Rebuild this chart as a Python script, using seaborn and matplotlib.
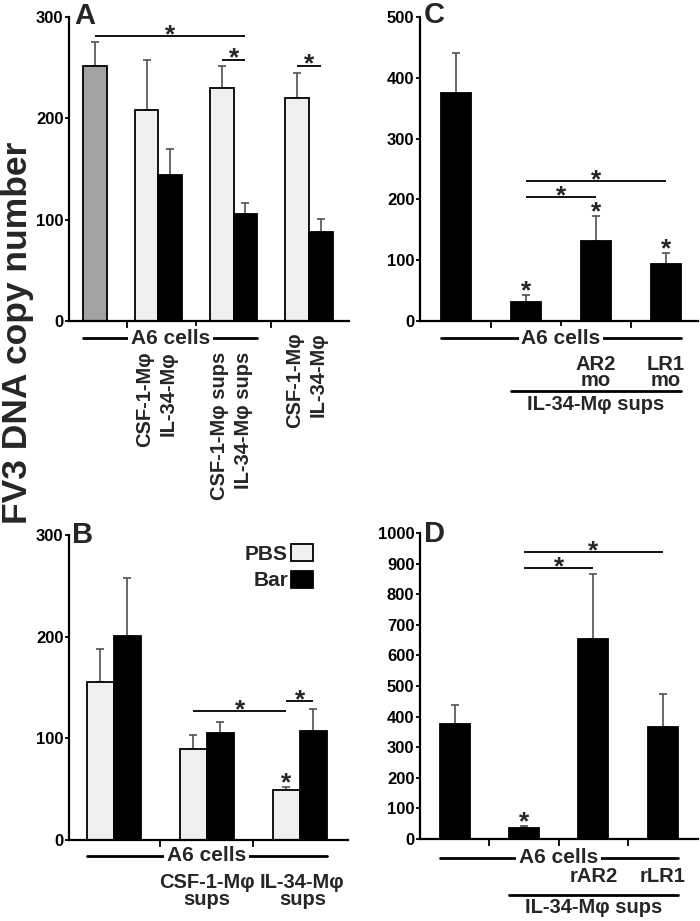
import numpy as np
import pandas as pd
import matplotlib
matplotlib.use("Agg")
import matplotlib.pyplot as plt
import matplotlib.transforms as mtransforms
import seaborn as sns

# ---- data ----
# A: A6 cells alone, then cells + Mphi, + Mphi sups, + Mphi (again)
a_source = ["none", "CSF-1", "IL-34", "CSF-1", "IL-34", "CSF-1", "IL-34"]
a_mean = [252, 208, 144, 230, 106, 220, 88]
a_err = [23, 50, 26, 22, 10, 25, 13]
a_ticks = ["CSF-1-Mφ", "IL-34-Mφ", "CSF-1-Mφ sups", "IL-34-Mφ sups", "CSF-1-Mφ", "IL-34-Mφ"]

# B: PBS vs Bar treated
b_groups = ["A6 cells", "CSF-1-Mφ\nsups", "IL-34-Mφ\nsups"]
b_pbs = [155, 90, 49]
b_pbs_err = [33, 13, 3]
b_bar = [201, 105, 107]
b_bar_err = [57, 11, 22]

# C: morpholinos
c_groups = ["A6", "sups", "AR2 mo", "LR1 mo"]
c_mean = [375, 31, 132, 94]
c_err = [65, 12, 41, 18]

# D: recombinant receptors
d_groups = ["A6", "sups", "rAR2", "rLR1"]
d_mean = [375, 35, 655, 365]
d_err = [62, 8, 210, 110]

LIGHT = "#efefef"
GRAY = "#a3a3a3"
BLACK = "#000000"
ERRC = "#505050"
FS = 14.5

sns.set_theme(style="ticks")
plt.rcParams["font.family"] = ["Liberation Sans", "DejaVu Sans"]
plt.rcParams["font.weight"] = "bold"

fig = plt.figure(figsize=(7, 9.21), dpi=100)
W, H = 700, 921
axA = fig.add_axes([69 / W, 1 - 321 / H, 280 / W, 304 / H])
axC = fig.add_axes([420 / W, 1 - 321 / H, 278 / W, 304 / H])
axB = fig.add_axes([69 / W, 1 - 840 / H, 279 / W, 305 / H])
axD = fig.add_axes([420 / W, 1 - 839 / H, 278 / W, 306 / H])


def style_axis(ax, ymax, step, xticks):
    sns.despine(ax=ax)
    for s in ["left", "bottom"]:
        ax.spines[s].set_linewidth(1.6)
        ax.spines[s].set_color("black")
    ax.set_ylim(0, ymax)
    ax.set_yticks(np.arange(0, ymax + 1, step))
    ax.set_xticks(xticks)
    ax.tick_params(axis="y", length=3, width=1.3, labelsize=12, pad=1, colors="black")
    ax.tick_params(axis="x", length=5, width=1.3, labelbottom=False, colors="black")
    ax.set_xlabel("")
    ax.set_ylabel("")


def add_err(ax, x, y, e):
    ax.errorbar(x, y, yerr=[np.zeros(len(e)), e], fmt="none", ecolor=ERRC,
                elinewidth=1.2, capsize=3, capthick=1.2, zorder=0.5)


def star(ax, x, y, off=-8, fs=19):
    ax.annotate("*", xy=(x, y), xytext=(0, off), textcoords="offset points",
                ha="center", va="bottom", fontsize=fs, fontweight="bold")


def sig(ax, x0, x1, y):
    ax.plot([x0, x1], [y, y], color="black", lw=1.3, solid_capstyle="butt")
    star(ax, (x0 + x1) / 2, y)


def underline(ax, x0, x1, y, text=None):
    tr = mtransforms.blended_transform_factory(ax.transData, ax.transAxes)
    ax.plot([x0, x1], [y, y], color="black", lw=2, transform=tr, clip_on=False)
    if text:
        ax.text((x0 + x1) / 2, y, text, transform=tr, ha="center", va="center",
                fontsize=FS + 0.5, bbox=dict(facecolor="white", edgecolor="none", pad=2))


def label(ax, x, y, text, **kw):
    tr = mtransforms.blended_transform_factory(ax.transData, ax.transAxes)
    ax.text(x, y, text, transform=tr, fontsize=FS, clip_on=False, **kw)


# ---- A ----
centers = [1.1, 3.8, 7.0, 10.2]
a_pos = [centers[0]]
for c in centers[1:]:
    a_pos += [c - 0.5, c + 0.5]
a_df = pd.DataFrame({"pos": a_pos, "copies": a_mean, "mphi": a_source})
sns.barplot(data=a_df, x="pos", y="copies", hue="mphi",
            palette={"none": GRAY, "CSF-1": LIGHT, "IL-34": BLACK},
            native_scale=True, width=1.0, dodge=False, errorbar=None,
            edgecolor="black", linewidth=1.3, legend=False, ax=axA)
add_err(axA, a_pos, a_mean, a_err)
style_axis(axA, 300, 100, [(centers[i] + centers[i + 1]) / 2 for i in range(3)])
axA.set_xlim(0, 11.9)
sig(axA, a_pos[0], a_pos[4], 281)
sig(axA, a_pos[3], a_pos[4], 258)
sig(axA, a_pos[5], a_pos[6], 252)
underline(axA, a_pos[0] - 0.5, a_pos[4] + 0.5, -0.056, "A6 cells")
for i, t in enumerate(a_ticks):
    ytop = -0.100 if i < 4 else -0.037
    label(axA, a_pos[i + 1] - 0.1, ytop, t, rotation=90, ha="center", va="top")

# ---- B ----
b_df = pd.DataFrame({
    "group": b_groups * 2,
    "copies": b_pbs + b_bar,
    "treatment": ["PBS"] * 3 + ["Bar"] * 3,
})
bw = 0.58
sns.barplot(data=b_df, x="group", y="copies", hue="treatment", order=b_groups,
            hue_order=["PBS", "Bar"], palette={"PBS": LIGHT, "Bar": BLACK},
            width=bw, dodge=True, errorbar=None, edgecolor="black",
            linewidth=1.3, ax=axB)
bx = np.arange(len(b_groups))
add_err(axB, bx - bw / 4, b_pbs, b_pbs_err)
add_err(axB, bx + bw / 4, b_bar, b_bar_err)
style_axis(axB, 300, 100, [0.5, 1.5])
axB.set_xlim(-0.48, 2.52)
sig(axB, 1 - bw / 4, 2 - bw / 4, 127)
sig(axB, 2 - bw / 4, 2 + bw / 4, 137)
star(axB, 2 - bw / 4, b_pbs[2] + b_pbs_err[2], off=-6)
handles, labels = axB.get_legend_handles_labels()
axB.legend(handles, labels, loc="upper right", bbox_to_anchor=(0.875, 0.97),
           frameon=False, markerfirst=False, fontsize=FS + 0.5, borderpad=0,
           borderaxespad=0, handlelength=1.05, handleheight=0.85,
           handletextpad=0.15, labelspacing=0.35)
underline(axB, -bw / 2, 2 + bw / 2, -0.052, "A6 cells")
label(axB, 1, -0.108, b_groups[1], ha="center", va="top", linespacing=0.9)
label(axB, 2.03, -0.108, b_groups[2], ha="center", va="top", linespacing=0.9)

# ---- C ----
cw = 0.43
sns.barplot(x=c_groups, y=c_mean, order=c_groups, color=BLACK, width=cw,
            errorbar=None, edgecolor="black", linewidth=1.3, ax=axC)
add_err(axC, np.arange(4), c_mean, c_err)
style_axis(axC, 500, 100, [0.5, 1.5, 2.5])
axC.set_xlim(-0.514, 3.457)
sig(axC, 1, 3, 230)
sig(axC, 1, 2, 204)
for i in [1, 2, 3]:
    star(axC, i, c_mean[i] + c_err[i], off=-6)
underline(axC, -cw / 2, 3 + cw / 2, -0.056, "A6 cells")
label(axC, 2, -0.112, "AR2\nmo", ha="center", va="top", linespacing=0.8)
label(axC, 3, -0.112, "LR1\nmo", ha="center", va="top", linespacing=0.8)
underline(axC, 1 - cw / 2, 3 + cw / 2, -0.230)
label(axC, 2, -0.242, "IL-34-Mφ sups", ha="center", va="top")

# ---- D ----
sns.barplot(x=d_groups, y=d_mean, order=d_groups, color=BLACK, width=cw,
            errorbar=None, edgecolor="black", linewidth=1.3, ax=axD)
add_err(axD, np.arange(4), d_mean, d_err)
style_axis(axD, 1000, 100, [0.5, 1.5, 2.5])
axD.set_xlim(-0.5, 3.51)
sig(axD, 1, 3, 938)
sig(axD, 1, 2, 886)
star(axD, 1, d_mean[1] + d_err[1], off=-6)
underline(axD, -cw / 2, 3 + cw / 2, -0.062, "A6 cells")
label(axD, 2, -0.092, "rAR2", ha="center", va="top")
label(axD, 3, -0.092, "rLR1", ha="center", va="top")
underline(axD, 1 - cw / 2, 3 + cw / 2, -0.183)
label(axD, 2, -0.194, "IL-34-Mφ sups", ha="center", va="top")

# panel letters and shared y label
for txt, x, y in [("A", 74, 24), ("C", 424, 23), ("B", 72, 543), ("D", 424, 542)]:
    fig.text(x / W, 1 - y / H, txt, fontsize=21, va="baseline", ha="left")
fig.text(18 / W, 1 - 333 / H, "FV3 DNA copy number", rotation=90, fontsize=25.5,
         ha="center", va="center")

fig.savefig("out.png", dpi=100)
